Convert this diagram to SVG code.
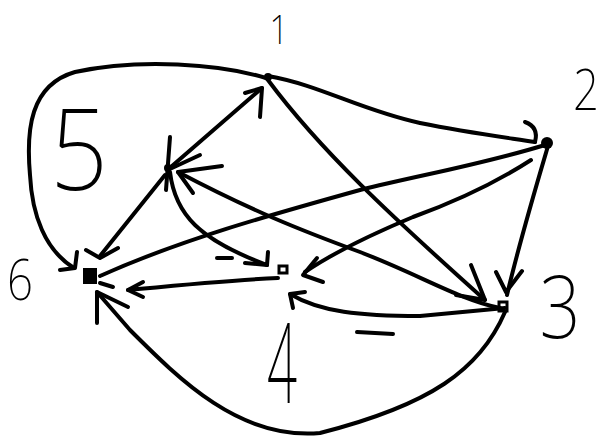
<svg xmlns="http://www.w3.org/2000/svg" width="606" height="439" viewBox="0 0 606 439">
<style>
.e{fill:none;stroke:#000;stroke-width:4;stroke-linecap:round;stroke-linejoin:round}
.lbl{font-family:"Noto Sans","Open Sans","Liberation Sans",sans-serif;font-weight:200;fill:#000;text-anchor:middle}
</style>
<rect width="606" height="439" fill="#fff"/>
<g id="connectors">
<path class="e" d="M266,78 C220,64 140,58 75,72 C30,85 26,130 30,175 C32,215 45,250 74,268"/>
<path class="e" d="M60,270 L75,268 L77,252"/>
<path class="e" d="M268,76 C320,85 360,110 420,123 C470,133 510,138 535,142"/>
<path class="e" d="M525,122 Q539,127 535,142"/>
<path class="e" d="M268,80 C320,150 390,215 485,300"/>
<path class="e" d="M471,265 L485,300 L456,295"/>
<path class="e" d="M172,166 L262,88"/>
<path class="e" d="M245,93 L262,88 L260,117"/>
<path class="e" d="M200,155 L172,168"/>
<path class="e" d="M548,146 C535,190 520,240 507,295"/>
<path class="e" d="M496,272 L506,292 L522,271"/>
<path class="e" d="M545,145 C480,165 420,175 360,190 C270,215 180,240 100,276"/>
<path class="e" d="M531,160 C500,180 460,200 413,217 C370,235 330,255 305,272"/>
<path class="e" d="M317,258 L303,275 L323,282"/>
<path class="e" d="M500,308 C460,300 420,275 360,252 C300,230 250,210 178,172"/>
<path class="e" d="M222,166 L178,172 L193,193"/>
<path class="e" d="M505,308 L420,316 C360,316 320,312 290,294"/>
<path class="e" d="M305,292 L290,294 L293,308"/>
<path class="e" d="M505,312 C480,370 430,405 320,433 C240,440 180,380 130,330 L97,292"/>
<path class="e" d="M97,323 L97,292 L128,307"/>
<path class="e" d="M113,287 L100,283"/>
<path class="e" d="M278,278 C230,280 180,285 128,290"/>
<path class="e" d="M143,282 L128,290 L143,297"/>
<path class="e" d="M170,172 C175,215 200,240 267,265"/>
<path class="e" d="M268,252 L267,265 L245,263"/>
<path class="e" d="M165,175 L100,256"/>
<path class="e" d="M86,250 L100,258 L118,248"/>
<path class="e" d="M217,258 L232,258"/>
<path class="e" d="M357,332 L393,334"/>
</g>
<g id="n1"><circle cx="268" cy="77" r="4"/><text class="lbl" x="279" y="44" font-size="41" textLength="19" lengthAdjust="spacingAndGlyphs">1</text></g>
<g id="n2"><circle cx="547" cy="143" r="6"/><text class="lbl" x="586" y="110" font-size="58" textLength="26" lengthAdjust="spacingAndGlyphs">2</text></g>
<g id="n3"><rect x="499" y="302" width="8" height="9" fill="none" stroke="#000" stroke-width="3"/><text class="lbl" x="560" y="338" font-size="87" textLength="41" lengthAdjust="spacingAndGlyphs">3</text></g>
<g id="n4"><rect x="279" y="266" width="8" height="7" fill="none" stroke="#000" stroke-width="3"/><text class="lbl" x="282" y="403" font-size="110" textLength="30" lengthAdjust="spacingAndGlyphs">4</text></g>
<g id="n5"><path class="e" d="M170,137 L166,190"/><circle cx="168" cy="168" r="4"/><text class="lbl" x="79" y="190" font-size="112" font-weight="100" textLength="58" lengthAdjust="spacingAndGlyphs">5</text></g>
<g id="n6"><rect x="83" y="268" width="14" height="16" fill="#000"/><text class="lbl" x="20" y="300" font-size="58" textLength="26" lengthAdjust="spacingAndGlyphs">6</text></g>
</svg>
